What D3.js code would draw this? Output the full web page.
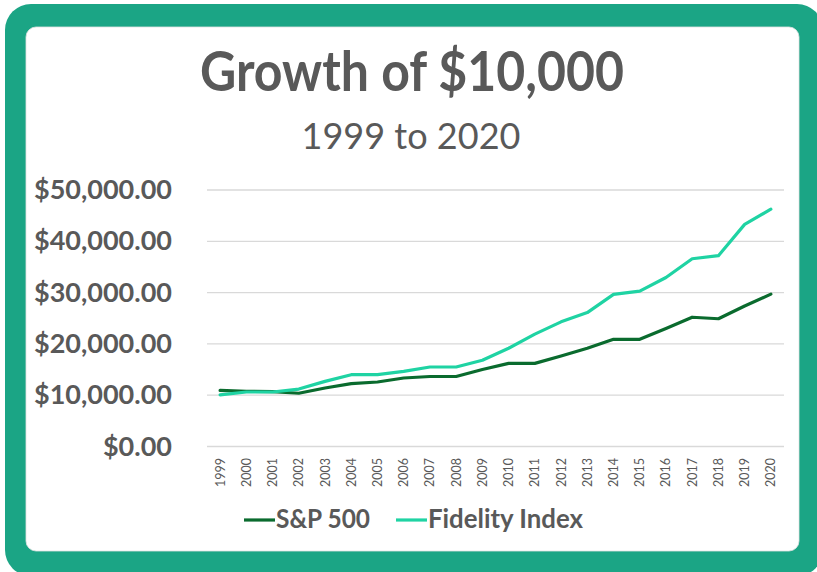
<!DOCTYPE html>
<html>
<head>
<meta charset="utf-8">
<script src="https://cdn.jsdelivr.net/npm/d3@7"></script>
<style>
  html, body { margin: 0; padding: 0; background: #ffffff; }
  svg { display: block; }
  text { font-family: Lato, "Open Sans", sans-serif; fill: #595959; }
</style>
</head>
<body>
<svg id="chart" width="817" height="572"></svg>
<script>
const years = ["1999","2000","2001","2002","2003","2004","2005","2006","2007","2008","2009","2010","2011","2012","2013","2014","2015","2016","2017","2018","2019","2020"];
const sp500 = [10950, 10760, 10700, 10380, 11400, 12250, 12570, 13350, 13650, 13650, 15000, 16200, 16200, 17650, 19150, 20900, 20900, 23000, 25200, 24900, 27400, 29700];
const fidelity = [10050, 10620, 10620, 11200, 12700, 14000, 14000, 14650, 15500, 15500, 16800, 19150, 21900, 24300, 26100, 29650, 30300, 32950, 36600, 37200, 43300, 46250];
const yTicks = [0, 10000, 20000, 30000, 40000, 50000];
const seriesNames = ["S&P 500", "Fidelity Index"];
const seriesColors = ["#0a6b2e", "#1fd3a3"];
const titleText = "Growth of $10,000";
const subtitleText = "1999 to 2020";

const svg = d3.select("#chart");

// frame
svg.append("rect").attr("x", 5).attr("y", 4).attr("width", 818).attr("height", 572)
  .attr("rx", 26).attr("fill", "#1ba585");
svg.append("rect").attr("x", 26).attr("y", 27).attr("width", 773).attr("height", 524)
  .attr("rx", 10).attr("fill", "#ffffff").attr("stroke", "#e2e2e2").attr("stroke-width", 0.8);

function fitText(sel, w) {
  sel.attr("textLength", w).attr("lengthAdjust", "spacingAndGlyphs");
}

// titles
svg.append("text").attr("x", 412).attr("y", 91).attr("text-anchor", "middle")
  .style("font-size", "56px").style("font-weight", 700).text(titleText)
  .call(fitText, 424);
svg.append("text").attr("x", 411).attr("y", 149).attr("text-anchor", "middle")
  .style("font-size", "36px").style("font-weight", 400).text(subtitleText)
  .call(fitText, 219);

const x = d3.scaleBand().domain(years).range([207, 784]).padding(0);
const y = d3.scaleLinear().domain([0, 50000]).range([446.5, 190]);
const cx = d => x(d) + x.bandwidth() / 2;

// gridlines
svg.append("g").selectAll("line").data(yTicks).join("line")
  .attr("x1", 207).attr("x2", 784)
  .attr("y1", d => y(d)).attr("y2", d => y(d))
  .attr("stroke", "#d9d9d9").attr("stroke-width", 1.3);

// y labels
const fmt = d3.format("$,.2f");
svg.append("g").selectAll("text").data(yTicks).join("text")
  .attr("x", 172).attr("y", d => y(d) + 9)
  .attr("text-anchor", "end")
  .style("font-size", "27px").style("font-weight", 700)
  .text(d => fmt(d));

// x labels
svg.append("g").selectAll("text").data(years).join("text")
  .attr("transform", d => `translate(${cx(d) + 4.5},458) rotate(-90)`)
  .attr("text-anchor", "end")
  .style("font-size", "12.5px").style("font-weight", 400)
  .text(d => d);

// lines
const line = d3.line().x((d, i) => cx(years[i])).y(d => y(d));
[sp500, fidelity].forEach((s, i) => {
  svg.append("path").datum(s).attr("d", line)
    .attr("fill", "none").attr("stroke", seriesColors[i])
    .attr("stroke-width", 3.2).attr("stroke-linejoin", "round").attr("stroke-linecap", "round");
});

// legend
const legendItems = [
  {x1: 244, x2: 275, tx: 276, tw: 94},
  {x1: 396, x2: 427, tx: 428, tw: 155}
];
legendItems.forEach((l, i) => {
  svg.append("line").attr("x1", l.x1).attr("x2", l.x2).attr("y1", 520).attr("y2", 520)
    .attr("stroke", seriesColors[i]).attr("stroke-width", 3.2);
  svg.append("text").attr("x", l.tx).attr("y", 528)
    .style("font-size", "26px").style("font-weight", 700).text(seriesNames[i])
    .call(fitText, l.tw);
});
</script>
</body>
</html>
